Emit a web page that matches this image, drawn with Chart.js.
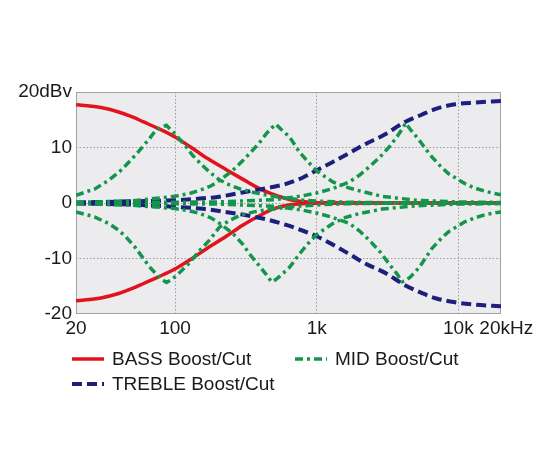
<!DOCTYPE html>
<html>
<head>
<meta charset="utf-8">
<script src="https://cdn.jsdelivr.net/npm/chart.js@4.4.1/dist/chart.umd.min.js"></script>
<style>
  html, body { margin: 0; padding: 0; background: #fff; }
  #wrap { width: 550px; height: 450px; }
</style>
</head>
<body>
<div id="wrap"><canvas id="eqChart" width="550" height="450"></canvas></div>
<script>
// ================= DATA =================
const xTicks = [20, 100, 1000, 10000, 20000];
const xTickLabels = ["20", "100", "1k", "10k", "  20kHz"];
const xGridAt = [100, 1000, 10000];
const yTicks = [-20, -10, 0, 10, 20];
const yTickLabels = ["-20", "-10", "0", "10", "20dBv"];
const legendLabels = ["BASS Boost/Cut", "MID Boost/Cut", "TREBLE Boost/Cut"];

// BASS (Hz / dB)
const bassFreq  = [20, 30, 40, 50, 60, 75, 100, 130, 170, 230, 300, 400, 500, 650, 850, 1100, 1500, 3000, 20000];
const bassBoost = [17.7, 17.2, 16.4, 15.5, 14.6, 13.5, 11.9, 10.0, 8.0, 6.0, 4.3, 2.5, 1.5, 0.6, 0.2, 0.05, 0, 0, 0];
const bassCut   = [-17.6, -17.1, -16.3, -15.4, -14.5, -13.4, -11.9, -10.1, -8.1, -6.0, -4.0, -2.2, -1.0, -0.3, -0.1, 0, 0, 0, 0];

// TREBLE
const trebleFreq  = [20, 50, 100, 150, 200, 300, 450, 600, 800, 1000, 1300, 1700, 2200, 3000, 4200, 5500, 7000, 9500, 13000, 20000];
const trebleBoost = [0.1, 0.3, 0.5, 0.8, 1.1, 1.9, 2.7, 3.4, 4.6, 5.9, 7.4, 9.0, 10.6, 12.3, 14.6, 15.9, 17.0, 17.8, 18.1, 18.4];
const trebleCut   = [-0.1, -0.3, -0.7, -1.0, -1.4, -2.1, -3.0, -3.9, -5.0, -6.0, -7.5, -9.2, -10.9, -12.5, -14.8, -16.2, -17.2, -17.9, -18.3, -18.6];

// MID (tres posiciones)
const mid1Freq  = [20, 27, 34, 40, 45, 52, 59, 66, 73, 80, 87, 95, 107, 120, 133, 150, 175, 205, 240, 290, 360, 450, 600, 800, 1100, 1600, 3000, 20000];
const mid1Boost = [1.4, 2.5, 4.1, 5.5, 6.8, 8.5, 10.1, 11.6, 13.1, 13.6, 14.0, 13.0, 11.6, 10.1, 8.6, 7.2, 5.6, 4.2, 3.3, 2.5, 1.9, 1.4, 0.9, 0.5, 0.3, 0.15, 0.05, 0];
const mid1Cut   = [-1.6, -2.5, -3.7, -4.9, -6.1, -7.9, -9.8, -11.5, -12.7, -13.7, -14.3, -13.8, -12.6, -11.4, -10.1, -8.5, -6.7, -4.4, -3.2, -2.2, -1.6, -1.2, -0.8, -0.5, -0.3, -0.15, -0.05, 0];

const mid2Freq  = [20, 50, 100, 130, 150, 180, 210, 256, 300, 336, 390, 441, 480, 515, 560, 643, 755, 870, 991, 1150, 1300, 1600, 2000, 2900, 5000, 10000, 20000];
const mid2Boost = [0.1, 0.4, 1.2, 1.8, 2.3, 3.1, 4.2, 5.9, 7.6, 8.9, 10.7, 12.5, 13.5, 14.2, 13.3, 11.9, 9.2, 7.4, 5.9, 4.7, 3.8, 2.9, 2.2, 1.2, 0.5, 0.2, 0.1];
const mid2Cut   = [-0.1, -0.4, -1.0, -1.5, -1.9, -2.7, -3.8, -5.5, -7.4, -9.2, -11.2, -12.9, -14.2, -13.8, -13.0, -11.6, -9.2, -7.3, -5.8, -4.6, -3.7, -2.6, -1.9, -1.1, -0.5, -0.2, -0.1];

const mid3Freq  = [20, 200, 500, 800, 1000, 1300, 1700, 2000, 2350, 2800, 3250, 3700, 4000, 4250, 4600, 5300, 5900, 6500, 7500, 8500, 10000, 11100, 13000, 15500, 18000, 20000];
const mid3Boost = [0, 0.2, 0.6, 1.3, 1.8, 2.6, 3.8, 5.0, 6.5, 8.3, 10.1, 12.0, 13.3, 14.4, 13.2, 11.3, 9.7, 8.3, 6.6, 5.3, 4.2, 3.5, 2.7, 2.1, 1.7, 1.5];
const mid3Cut   = [0, -0.2, -0.6, -1.3, -1.8, -2.6, -3.7, -5.0, -6.7, -8.8, -11.0, -12.8, -14.2, -14.0, -13.3, -11.6, -9.8, -8.2, -6.5, -5.2, -4.1, -3.4, -2.7, -2.1, -1.8, -1.6];

// ================= ESTILOS =================
const RED = "#e2131d";
const BLUE = "#1e1e7c";
const GREEN = "#13964b";
const FONT = "'Liberation Sans', Arial, Helvetica, sans-serif";

const styleBass   = { borderColor: RED,   borderWidth: 3.5, borderDash: [],           cubicInterpolationMode: "monotone", order: 3 };
const styleTreble = { borderColor: BLUE,  borderWidth: 4,   borderDash: [10, 5],      cubicInterpolationMode: "monotone", order: 2 };
const styleMid    = { borderColor: GREEN, borderWidth: 3.5, borderDash: [8, 4, 3, 4], tension: 0,                         order: 1 };

function pts(freqs, vals) {
  return freqs.map((f, i) => ({ x: f, y: vals[i] }));
}

function ds(label, freqs, vals, style) {
  return Object.assign({
    label,
    data: pts(freqs, vals),
    pointRadius: 0,
    fill: false
  }, style);
}

const datasets = [
  ds("MID", mid1Freq, mid1Boost, styleMid),
  ds("MID", mid1Freq, mid1Cut, styleMid),
  ds("MID", mid2Freq, mid2Boost, styleMid),
  ds("MID", mid2Freq, mid2Cut, styleMid),
  ds("MID", mid3Freq, mid3Boost, styleMid),
  ds("MID", mid3Freq, mid3Cut, styleMid),
  ds("TREBLE", trebleFreq, trebleBoost, styleTreble),
  ds("TREBLE", trebleFreq, trebleCut, styleTreble),
  ds("BASS", bassFreq, bassBoost, styleBass),
  ds("BASS", bassFreq, bassCut, styleBass)
];

// ================= PLUGINS =================
const plotBgPlugin = {
  id: "plotBg",
  beforeDraw(chart) {
    const { ctx, chartArea: a } = chart;
    ctx.save();
    ctx.fillStyle = "#ececef";
    ctx.fillRect(a.left, a.top, a.right - a.left, a.bottom - a.top);
    ctx.restore();
  },
  beforeDatasetsDraw(chart) {
    const { ctx, chartArea: a } = chart;
    ctx.save();
    ctx.strokeStyle = "#a3a3a6";
    ctx.lineWidth = 1;
    ctx.strokeRect(a.left + 0.5, a.top + 0.5, a.right - a.left - 1, a.bottom - a.top - 1);
    ctx.restore();
  }
};

const legendPlugin = {
  id: "eqLegend",
  afterDraw(chart) {
    const { ctx, chartArea: a } = chart;
    const items = [
      { text: legendLabels[0], style: styleBass,   x: a.left - 4,   y: a.bottom + 45 },
      { text: legendLabels[1], style: styleMid,    x: a.left + 219, y: a.bottom + 45 },
      { text: legendLabels[2], style: styleTreble, x: a.left - 4,   y: a.bottom + 70 }
    ];
    ctx.save();
    ctx.font = "19px " + FONT;
    ctx.textBaseline = "middle";
    ctx.fillStyle = "#1a1a1a";
    items.forEach(it => {
      ctx.strokeStyle = it.style.borderColor;
      ctx.lineWidth = it.style.borderWidth;
      ctx.setLineDash(it.style.borderDash);
      ctx.beginPath();
      ctx.moveTo(it.x, it.y);
      ctx.lineTo(it.x + 32, it.y);
      ctx.stroke();
      ctx.setLineDash([]);
      ctx.fillText(it.text, it.x + 40, it.y + 1);
    });
    ctx.restore();
  }
};

// ================= CHART =================
new Chart(document.getElementById("eqChart"), {
  type: "line",
  data: { datasets },
  plugins: [plotBgPlugin, legendPlugin],
  options: {
    responsive: false,
    animation: false,
    layout: { padding: { top: 92, right: 49, bottom: 106, left: 0 } },
    scales: {
      x: {
        type: "logarithmic",
        min: 20,
        max: 20000,
        afterBuildTicks(scale) {
          scale.ticks = xTicks.map(v => ({ value: v }));
        },
        afterFit(scale) { scale.height = 30; },
        ticks: {
          autoSkip: false,
          maxRotation: 0,
          padding: 3,
          color: "#1a1a1a",
          font: { family: FONT, size: 19 },
          callback: v => xTickLabels[xTicks.indexOf(v)]
        },
        grid: {
          drawTicks: false,
          lineWidth: 1,
          color: c => (c.tick && xGridAt.includes(c.tick.value)) ? "#9c9c9c" : "rgba(0,0,0,0)"
        },
        border: { display: false, dash: [1.5, 2] }
      },
      y: {
        min: -20,
        max: 20,
        afterBuildTicks(scale) {
          scale.ticks = yTicks.map(v => ({ value: v }));
        },
        afterFit(scale) { scale.width = 76; },
        ticks: {
          padding: 4,
          color: "#1a1a1a",
          font: { family: FONT, size: 19 },
          callback: v => yTickLabels[yTicks.indexOf(v)]
        },
        grid: {
          drawTicks: false,
          lineWidth: 1,
          color: c => (c.tick && Math.abs(c.tick.value) < 20) ? "#9c9c9c" : "rgba(0,0,0,0)"
        },
        border: { display: false, dash: [1.5, 2] }
      }
    },
    plugins: {
      legend: { display: false },
      tooltip: { enabled: false }
    }
  }
});
</script>
</body>
</html>
